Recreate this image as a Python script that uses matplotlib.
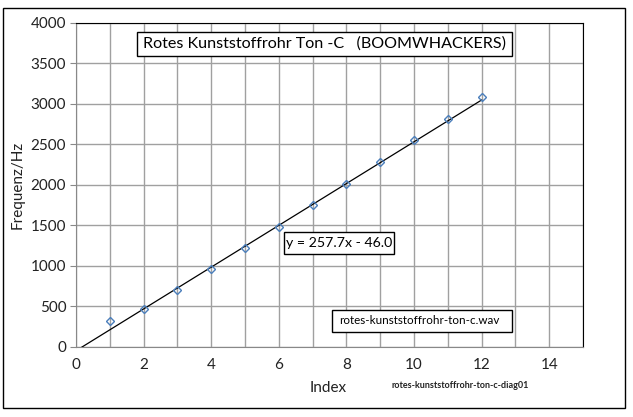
import numpy as np
import matplotlib
matplotlib.use("Agg")
import matplotlib.pyplot as plt
from matplotlib.patches import Rectangle

# Data
index = [1, 2, 3, 4, 5, 6, 7, 8, 9, 10, 11, 12]
freq = [320, 465, 699, 958, 1217, 1484, 1753, 2014, 2277, 2549, 2811, 3086]
slope = 257.7
intercept = -46.0
title_text = "Rotes Kunststoffrohr Ton -C   (BOOMWHACKERS)"
eq_text = "y = 257.7x - 46.0"
wav_text = "rotes-kunststoffrohr-ton-c.wav"
foot_text = "rotes-kunststoffrohr-ton-c-diag01"
x_ticks = [0, 2, 4, 6, 8, 10, 12, 14]
y_ticks = [0, 500, 1000, 1500, 2000, 2500, 3000, 3500, 4000]

plt.rcParams['font.family'] = ['Lato', 'DejaVu Sans']

W, H = 633, 417
fig = plt.figure(figsize=(W / 100, H / 100), dpi=100)
fig.patch.set_facecolor('white')

# outer border
fig.add_artist(Rectangle((3 / W, 1 - 408 / H), (625 - 3) / W, (408 - 8) / H,
                         transform=fig.transFigure, fill=False, edgecolor='black', lw=1.0))

left, right, top, bottom = 76, 583, 22.7, 347
ax = fig.add_axes([left / W, 1 - bottom / H, (right - left) / W, (bottom - top) / H])
ax.set_xlim(0, 15)
ax.set_ylim(0, 4000)
ax.set_xticks(x_ticks)
ax.set_xticks(range(0, 16), minor=True)
ax.set_yticks(y_ticks)
ax.grid(True, which='both', axis='x', color='#a0a0a0', lw=1.0)
ax.grid(True, which='major', axis='y', color='#a0a0a0', lw=1.0)
ax.set_axisbelow(True)
ax.tick_params(axis='x', which='both', length=0, labelsize=11, pad=8, colors='#222222')
ax.tick_params(axis='y', which='major', length=4, labelsize=11, pad=3, colors='#888888', labelcolor='#222222')
ax.spines['left'].set_color('#888888')
ax.spines['bottom'].set_color('#888888')
ax.spines['top'].set_color('black')
ax.spines['right'].set_color('black')

# trendline
xl = np.array([0, 12])
ax.plot(xl, slope * xl + intercept, color='black', lw=0.9, zorder=3)
ax.plot(index, freq, linestyle='none', marker='D', markersize=4.5,
        markerfacecolor='none', markeredgecolor='#4a7ebb', markeredgewidth=1.0, zorder=4)

ax.set_xlabel("Index", fontsize=11, color='#222222')
ax.set_ylabel("Frequenz/Hz", fontsize=11, color='#222222')
ax.xaxis.set_label_coords((328 - left) / (right - left), -(381 - bottom) / (bottom - top))
ax.yaxis.set_label_coords(-(76 - 25) / (right - left), (bottom - 185) / (bottom - top))

def box(text, x0, y0, x1, y1, size, tx=None):
    fig.add_artist(Rectangle((x0 / W, 1 - y1 / H), (x1 - x0) / W, (y1 - y0) / H,
                             transform=fig.transFigure, facecolor='white', edgecolor='black', lw=1.0, zorder=5))
    if tx is None:
        fig.text((x0 + x1) / 2 / W, 1 - (y0 + y1) / 2 / H, text, ha='center', va='center',
                 fontsize=size, color='black', zorder=6)
    else:
        fig.text(tx / W, 1 - (y0 + y1) / 2 / H, text, ha='left', va='center',
                 fontsize=size, color='black', zorder=6)

box(title_text, 137, 32, 512, 56, 11.6)
box(eq_text, 284, 232, 394, 254, 10.2)
box(wav_text, 332, 310, 512, 332, 8.4, tx=339)

fig.text(460 / W, 1 - 386 / H, foot_text, ha='center', va='center', fontsize=6.5,
         fontweight='bold', color='#222222')

fig.savefig("out.png", dpi=100, facecolor='white')
